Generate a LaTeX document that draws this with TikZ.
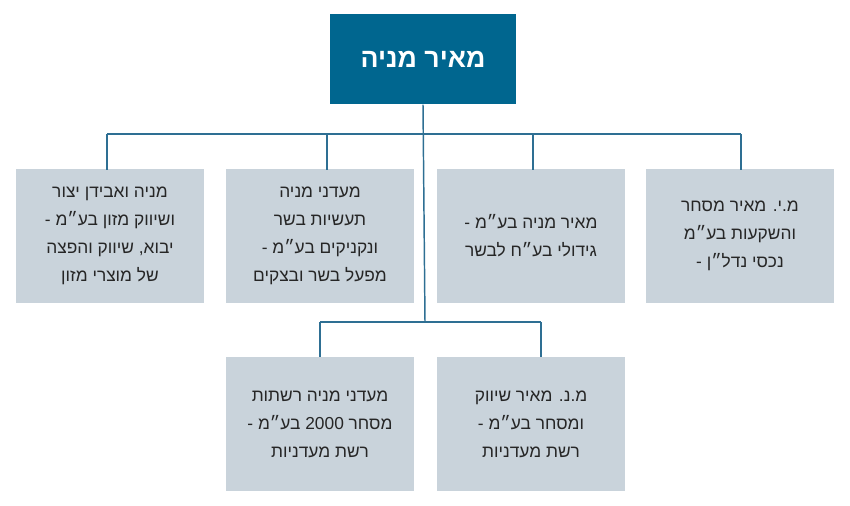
\documentclass[tikz,border=0pt]{standalone}
\usepackage{fontspec}
\setmainfont{Liberation Sans}
\newfontfamily\hebfont[Script=Hebrew]{Liberation Sans}
\TeXXeTstate=1
\usetikzlibrary{positioning}
\definecolor{teal}{HTML}{00668F}
\definecolor{boxgray}{HTML}{C9D3DB}
\definecolor{linecol}{HTML}{2E6F93}
\newcommand{\heb}[1]{\beginR #1\endR}
\tikzset{
  unit/.style={fill=boxgray, minimum width=141pt, minimum height=100pt,
    align=center, font=\hebfont\fontsize{13}{21}\selectfont, text=black!85},
  top/.style={fill=teal, minimum width=140pt, minimum height=68pt,
    font=\hebfont\bfseries\fontsize{20}{24}\selectfont, text=white},
  link/.style={linecol, line width=1.1pt}
}
\begin{document}
\begin{tikzpicture}[x=0.75pt, y=-0.75pt]
  \useasboundingbox (0,0) rectangle (850,506);

  % owner
  \node[top] (owner) at (423,59) {\heb{מאיר מניה}};

  % first row
  \node[unit] (my) at (740,236) {\heb{מ.י. מאיר מסחר}\\ \heb{והשקעות בע״מ}\\ \heb{נכסי נדל״ן -}};
  \node[unit] (mm) at (531,236) {\heb{מאיר מניה בע״מ -}\\ \heb{גידולי בע״ח לבשר}};
  \node[unit] (md) at (320,236) {\heb{מעדני מניה}\\ \heb{תעשיות בשר}\\ \heb{ונקניקים בע״מ -}\\ \heb{מפעל בשר ובצקים}};
  \node[unit] (ma) at (110,236) {\heb{מניה ואבידן יצור}\\ \heb{ושיווק מזון בע״מ -}\\ \heb{יבוא, שיווק והפצה}\\ \heb{של מוצרי מזון}};

  % second row
  \node[unit] (mn) at (531,424) {\heb{מ.נ. מאיר שיווק}\\ \heb{ומסחר בע״מ -}\\ \heb{רשת מעדניות}};
  \node[unit] (mr) at (320,424) {\heb{מעדני מניה רשתות}\\ \heb{מסחר \beginL 2000\endL{} בע״מ -}\\ \heb{רשת מעדניות}};

  % connectors
  \coordinate (bus1) at (425,134);
  \coordinate (bus2) at (425,322);
  \draw[link] (owner.south) -- (bus2);
  \draw[link] (107,134) -- (741,134);
  \foreach \n/\x in {ma/107, md/327, mm/533, my/741}
    \draw[link] (\x,134) -- (\x,170);
  \draw[link] (320,322) -- (541,322);
  \foreach \n/\x in {mr/320, mn/541}
    \draw[link] (\x,322) -- (\x,357);
\end{tikzpicture}
\end{document}
